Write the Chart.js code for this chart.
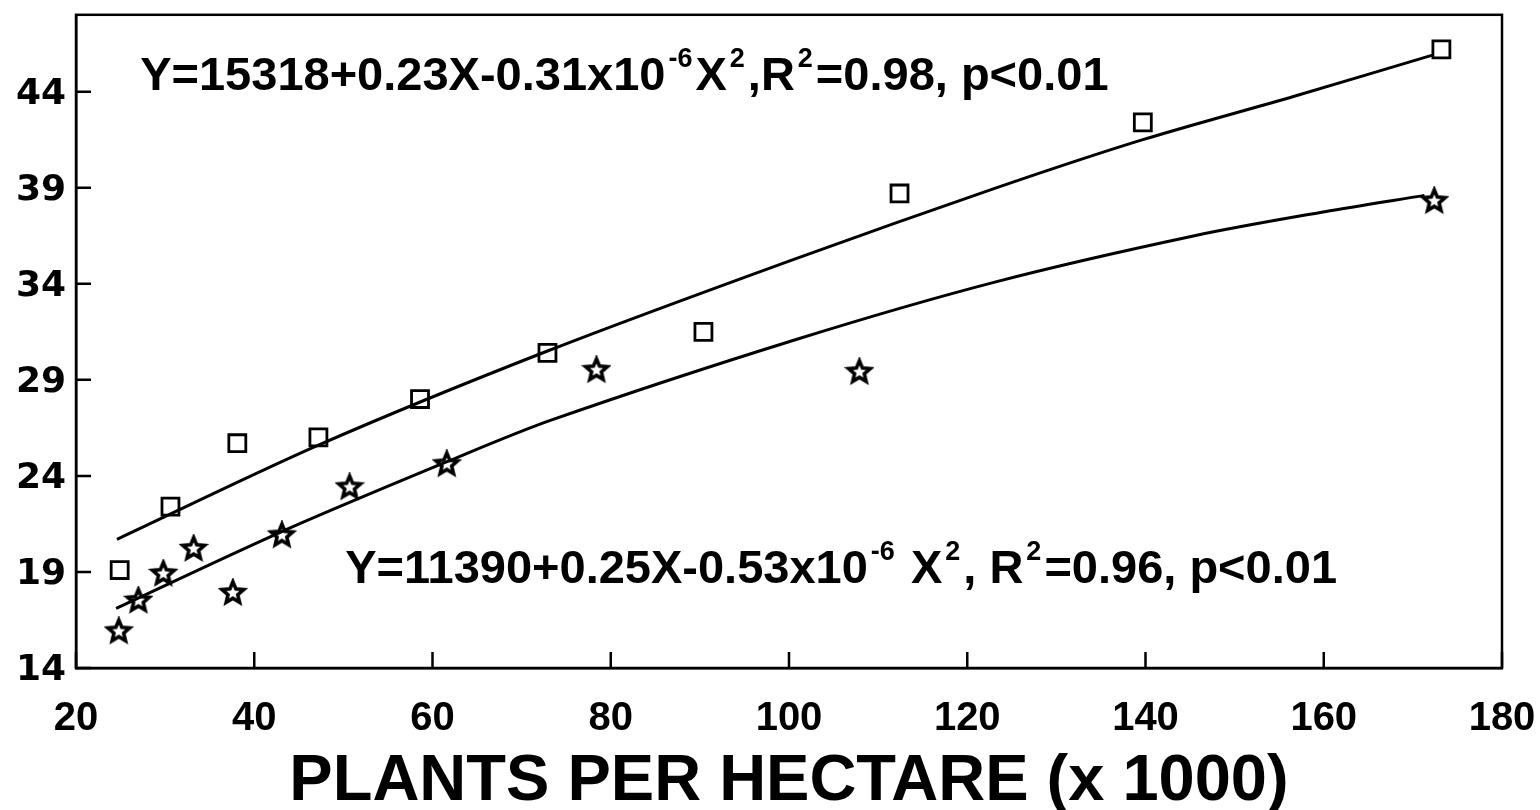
<!DOCTYPE html>
<html>
<head>
<meta charset="utf-8">
<script src="https://cdn.jsdelivr.net/npm/chart.js@4.4.1/dist/chart.umd.min.js"></script>
<style>
  html, body { margin: 0; padding: 0; background: #fff; }
  #wrap { width: 1540px; height: 810px; position: relative; }
</style>
</head>
<body>
<div id="wrap"><canvas id="plantChart"></canvas></div>
<script>
var X_TICKS = [20, 40, 60, 80, 100, 120, 140, 160, 180];
var Y_TICKS = [14, 19, 24, 29, 34, 39, 44];

// open squares (upper series)
var SQUARE_X = [24.9, 30.6, 38.1, 47.2, 58.6, 72.9, 90.4, 112.4, 139.7, 173.2];
var SQUARE_Y = [19.1, 22.4, 25.7, 26.0, 28.0, 30.4, 31.5, 38.7, 42.4, 46.2];

// stars (lower series)
var STAR_X = [24.8, 27.0, 29.8, 33.2, 37.6, 43.1, 50.7, 61.6, 78.4, 107.9, 172.4];
var STAR_Y = [15.9, 17.5, 18.9, 20.2, 17.9, 20.9, 23.4, 24.6, 29.5, 29.4, 38.3];

// fitted curves
var UPPER_FIT_X = [24.6, 47.2, 72.9, 100.7, 123.0, 139.7, 156.6, 172.2];
var UPPER_FIT_Y = [20.7, 25.6, 30.5, 35.3, 38.95, 41.5, 43.75, 45.9];
var LOWER_FIT_X = [24.5, 43.1, 61.7, 73.3, 100.8, 123.2, 145.5, 160.1, 171.3];
var LOWER_FIT_Y = [17.1, 21.1, 24.75, 26.9, 31.1, 34.1, 36.5, 37.75, 38.6];

var X_TITLE = 'PLANTS PER HECTARE (x 1000)';

var FONT = '"Liberation Sans", Arial, Helvetica, sans-serif';

function pairs(xs, ys) {
  return xs.map(function(x, i) { return {x: x, y: ys[i]}; });
}

function makeStar(size, lw) {
  var c = document.createElement('canvas');
  c.width = size; c.height = size;
  var g = c.getContext('2d');
  var cx = size / 2, R = size / 2 - lw, r = R * 0.45;
  g.beginPath();
  for (var i = 0; i < 10; i++) {
    var a = -Math.PI / 2 + i * Math.PI / 5;
    var rad = (i % 2) ? r : R;
    g.lineTo(cx + rad * Math.cos(a), cx + rad * Math.sin(a));
  }
  g.closePath();
  g.lineWidth = lw; g.strokeStyle = '#000'; g.lineJoin = 'miter';
  g.stroke();
  return c;
}

/* frame, inward tick marks and the two equations */
var framePlugin = {
  id: 'frame',
  afterDraw: function(chart, args, opts) {
    var ctx = chart.ctx, a = chart.chartArea;
    var xs = chart.scales.x, ys = chart.scales.y;
    ctx.save();
    ctx.strokeStyle = '#000';
    ctx.lineWidth = 2.5;
    ctx.strokeRect(a.left, a.top, a.right - a.left, a.bottom - a.top);
    ctx.beginPath();
    X_TICKS.forEach(function(v) {
      var px = xs.getPixelForValue(v);
      ctx.moveTo(px, a.bottom); ctx.lineTo(px, a.bottom - 16);
    });
    Y_TICKS.forEach(function(v) {
      var py = ys.getPixelForValue(v);
      ctx.moveTo(a.left, py); ctx.lineTo(a.left + 15, py);
    });
    ctx.stroke();

    ctx.fillStyle = '#000';
    ctx.textBaseline = 'alphabetic';
    ctx.textAlign = 'left';
    opts.equations.forEach(function(eq) {
      var x = xs.getPixelForValue(eq.x);
      var y = ys.getPixelForValue(eq.y);
      eq.parts.forEach(function(p) {
        var sup = p[1] === 1;
        ctx.font = 'bold ' + (sup ? 27 : 47) + 'px ' + FONT;
        if (sup) x += 3;
        ctx.fillText(p[0], x, sup ? y - 23 : y);
        x += ctx.measureText(p[0]).width + (sup ? 3 : 0);
      });
    });
    ctx.restore();
  }
};

new Chart(document.getElementById('plantChart'), {
  type: 'scatter',
  data: {
    datasets: [
      {
        label: 'upper fit', type: 'line', data: pairs(UPPER_FIT_X, UPPER_FIT_Y),
        borderColor: '#000', borderWidth: 3, pointRadius: 0, fill: false, tension: 0.3
      },
      {
        label: 'lower fit', type: 'line', data: pairs(LOWER_FIT_X, LOWER_FIT_Y),
        borderColor: '#000', borderWidth: 3, pointRadius: 0, fill: false, tension: 0.3
      },
      {
        label: 'squares', data: pairs(SQUARE_X, SQUARE_Y),
        pointStyle: 'rect', pointRadius: 12, borderWidth: 2.8,
        borderColor: '#000', backgroundColor: 'rgba(0,0,0,0)'
      },
      {
        label: 'stars', data: pairs(STAR_X, STAR_Y),
        pointStyle: makeStar(30, 3.6), pointRadius: 13
      }
    ]
  },
  options: {
    responsive: true,
    maintainAspectRatio: false,
    animation: false,
    layout: {padding: {top: 14, right: 38, left: 0, bottom: 0}},
    plugins: {
      legend: {display: false},
      tooltip: {enabled: false},
      frame: {
        equations: [
          {x: 27.2, y: 44.1, parts: [['Y=15318+0.23X-0.31x10'], ['-6', 1], ['X'], ['2', 1], [',R'], ['2', 1], ['=0.98, p<0.01']]},
          {x: 50.2, y: 18.4, parts: [['Y=11390+0.25X-0.53x10'], ['-6', 1], [' X'], ['2', 1], [', R'], ['2', 1], ['=0.96, p<0.01']]}
        ]
      }
    },
    scales: {
      x: {
        type: 'linear', min: 20, max: 180,
        afterBuildTicks: function(s) { s.ticks = X_TICKS.map(function(v) { return {value: v}; }); },
        afterFit: function(s) { s.height = 142; s.paddingLeft = 0; s.paddingRight = 0; },
        grid: {display: false, drawTicks: false},
        border: {display: true, color: '#000', width: 2.5},
        ticks: {font: {family: FONT, size: 40, weight: 'bold'}, color: '#000', padding: 27, maxRotation: 0, autoSkip: false},
        title: {
          display: true, text: X_TITLE, color: '#000', padding: 0,
          font: {family: FONT, size: 65, weight: 'bold', lineHeight: 0.85}
        }
      },
      y: {
        type: 'linear', min: 14, max: 48,
        afterBuildTicks: function(s) { s.ticks = Y_TICKS.map(function(v) { return {value: v}; }); },
        afterFit: function(s) { s.width = 76; s.paddingTop = 0; s.paddingBottom = 0; },
        grid: {display: false, drawTicks: false},
        border: {display: true, color: '#000', width: 2.5},
        ticks: {font: {family: '"DejaVu Sans", sans-serif', size: 36, weight: 'bold'}, color: '#000', padding: 10, labelOffset: 3, autoSkip: false}
      }
    }
  },
  plugins: [framePlugin]
});
</script>
</body>
</html>
